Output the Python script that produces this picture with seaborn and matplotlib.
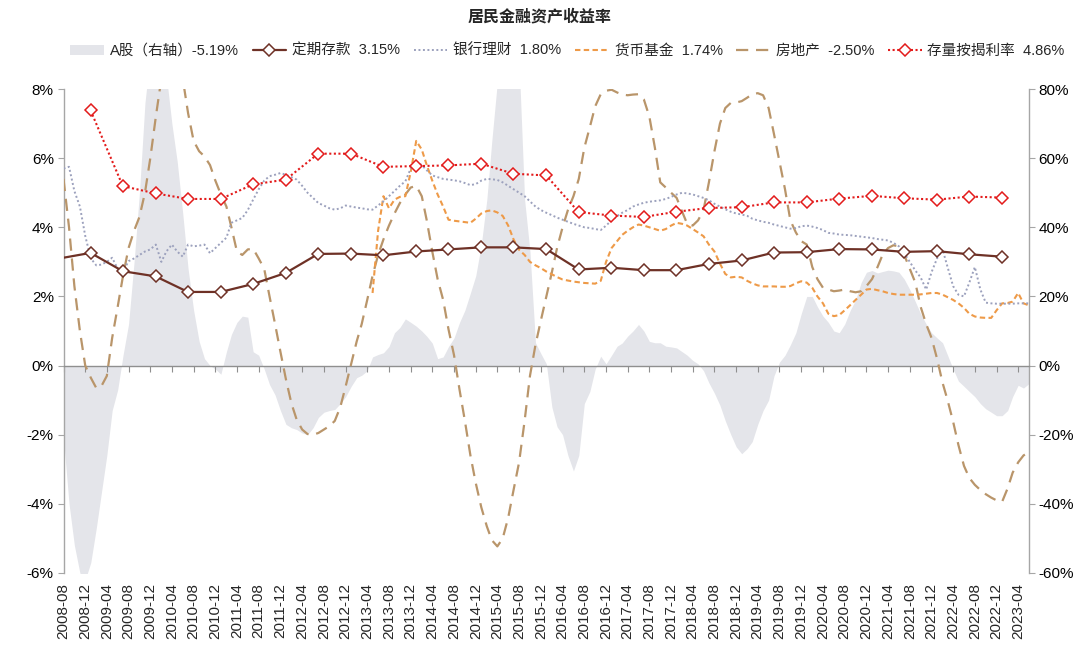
import numpy as np
import pandas as pd
import matplotlib
matplotlib.use("Agg")
import matplotlib.pyplot as plt
import matplotlib.dates as mdates
from matplotlib.lines import Line2D
from matplotlib.patches import Patch
from matplotlib.ticker import FuncFormatter, MultipleLocator
import seaborn as sns

# ---------------- data ----------------
month_start = "2008-08-01"
n_months = 179  # 2008-08 .. 2023-06

# A-share yoy return (%), right axis, monthly
astock = [
    -21, -40, -52, -60, -62, -57, -47, -37, -26, -13, -7, 3,
    12, 30, 50, 76, 90, 95, 92, 84, 70, 59, 44, 28,
    16, 7, 2, 0, -1, -2.5, 4, 9, 12.5, 14.3, 14, 4,
    3, -1, -5.5, -8.5, -13, -17, -18, -18.5, -19.5, -20, -18, -15,
    -13.5, -13, -12.7, -11, -9, -6, -3.5, -2.8, -1.5, 2.5, 3.2, 3.7,
    5.5, 9.5, 11, 13.5, 12.5, 11.4, 10, 8.5, 6.5, 2, 2.5, 5.5,
    8, 12.5, 16, 21, 26, 35, 48, 65, 82, 95, 110, 100,
    88, 48, 33, 6.6, 3.5, 0.5, -12, -17.7, -20, -26, -30.5, -26,
    -11, -7.5, -1, 2.7, 0.5, 3, 5.6, 6.5, 8.5, 10, 11.9, 10,
    7, 6.6, 6.6, 5.6, 5.4, 5.1, 4, 3, 1.5, 0.5, -1.5, -5,
    -8, -11.5, -16, -20, -23.5, -25.5, -24, -22, -17, -13, -10, -3,
    1, 3, 6, 9.5, 15, 20, 20, 17, 14.3, 12.5, 10, 9.5,
    12, 16, 19, 24, 27, 27.5, 26.8, 27.2, 27.6, 27.4, 27, 25,
    22, 18.5, 15, 12, 9.5, 8, 6.6, 3, -1, -4.5, -6, -7.5,
    -9, -11, -12.5, -13.5, -14.5, -14.5, -13, -9, -5.7, -6.5, -5.19,
]

# bank wealth-management yield (%), monthly
wmp = [
    5.7, 5.75, 5.05, 4.6, 3.75, 3.1, 2.9, 2.92, 3.0, 3.12, 2.8, 2.73,
    3.02, 3.1, 3.2, 3.3, 3.36, 3.5, 3.0, 3.3, 3.5, 3.3, 3.15, 3.5,
    3.45, 3.47, 3.5, 3.25, 3.4, 3.55, 3.7, 4.13, 4.2, 4.27, 4.5, 4.8,
    5.1, 5.35, 5.48, 5.52, 5.57, 5.52, 5.45, 5.38, 5.2, 5.0, 4.85, 4.7,
    4.63, 4.55, 4.51, 4.55, 4.63, 4.6, 4.57, 4.55, 4.52, 4.51, 4.63, 4.75,
    4.9, 5.05, 5.2, 5.33, 5.7, 5.9, 5.8, 5.65, 5.5, 5.45, 5.4, 5.38,
    5.36, 5.33, 5.28, 5.22, 5.25, 5.35, 5.4, 5.39, 5.37, 5.3, 5.2, 5.1,
    5.0, 4.9, 4.75, 4.6, 4.5, 4.42, 4.35, 4.28, 4.22, 4.16, 4.1, 4.05,
    4.0, 3.98, 3.95, 3.92, 4.05, 4.2, 4.32, 4.42, 4.5, 4.6, 4.66, 4.71,
    4.74, 4.76, 4.78, 4.82, 4.88, 4.95, 5.0, 4.98, 4.95, 4.9, 4.85, 4.78,
    4.68, 4.6, 4.52, 4.45, 4.4, 4.37, 4.33, 4.25, 4.2, 4.16, 4.13, 4.08,
    4.04, 4.0, 3.96, 3.98, 4.03, 4.05, 4.02, 3.98, 3.92, 3.84, 3.82, 3.79,
    3.78, 3.77, 3.75, 3.73, 3.71, 3.69, 3.66, 3.64, 3.62, 3.55, 3.45, 3.25,
    3.0, 2.75, 2.55, 2.2, 2.7, 3.1, 3.36, 2.85, 2.3, 2.05, 2.0, 2.4,
    2.85, 2.2, 1.82, 1.8, 1.79, 1.79, 1.79, 1.79, 1.8, 1.8, 1.8,
]

# money market fund yield (%), monthly from 2013-05
mmf_start = "2013-05-01"
mmf = [
    2.1, 3.9, 4.9,
    4.55, 4.8, 4.88, 4.9, 5.6, 6.5, 6.25, 5.8, 5.35, 4.95, 4.6, 4.22,
    4.19, 4.17, 4.15, 4.13, 4.25, 4.4, 4.47, 4.49, 4.43, 4.33, 4.05, 3.65,
    3.35, 3.2, 3.0, 2.9, 2.82, 2.72, 2.64, 2.56, 2.49, 2.46, 2.43, 2.41,
    2.39, 2.38, 2.37, 2.45, 3.0, 3.4, 3.6, 3.78, 3.9, 4.0, 4.08, 4.05,
    4.0, 3.95, 3.9, 3.95, 4.05, 4.13, 4.1, 4.05, 3.95, 3.85, 3.74, 3.5,
    3.3, 2.95, 2.65, 2.55, 2.57, 2.55, 2.45, 2.38, 2.32, 2.29, 2.29, 2.29,
    2.28, 2.28, 2.3, 2.38, 2.44, 2.4, 2.25, 2.0, 1.8, 1.5, 1.43, 1.46,
    1.6, 1.75, 1.9, 2.05, 2.2, 2.22, 2.18, 2.15, 2.1, 2.07, 2.05, 2.05,
    2.05, 2.05, 2.06, 2.08, 2.1, 2.1, 2.05, 1.98, 1.9, 1.8, 1.67, 1.5,
    1.42, 1.39, 1.38, 1.38, 1.6, 1.8, 1.81, 1.85, 2.1, 1.8, 1.74,
]

# real-estate return (%), monthly
realestate = [
    5.4, 4.0, 2.3, 1.0, 0.0, -0.35, -0.65, -0.6, -0.3, 0.8, 1.7, 2.6,
    3.4, 3.9, 4.3, 5.0, 6.0, 7.2, 8.3, 9.5, 10.0, 9.2, 8.3, 7.3,
    6.5, 6.2, 6.05, 5.8, 5.35, 4.95, 4.6, 4.0, 3.3, 3.2, 3.36, 3.38,
    3.1, 2.8, 2.0, 1.2, 0.4, -0.4, -1.1, -1.56, -1.85, -1.98, -2.0, -1.95,
    -1.85, -1.75, -1.6, -1.2, -0.6, 0.05, 0.7, 1.2, 1.9, 2.6, 3.2, 3.65,
    4.05, 4.4, 4.7, 4.95, 5.15, 5.2, 4.9, 4.2, 3.3, 2.5, 1.9, 1.05,
    0.3, -0.7, -1.6, -2.6, -3.4, -4.1, -4.65, -5.05, -5.23, -5.0, -4.4, -3.6,
    -2.8, -1.6, -0.3, 0.6, 1.3, 2.0, 2.7, 3.4, 4.0, 4.5, 4.9, 5.4,
    6.3, 6.9, 7.5, 7.85, 7.95, 7.98, 7.9, 7.84, 7.82, 7.84, 7.85, 7.7,
    7.2, 6.3, 5.3, 5.15, 5.0, 4.85, 4.45, 4.1, 4.05, 4.2, 4.5, 5.3,
    6.2, 7.0, 7.45, 7.6, 7.61, 7.65, 7.75, 7.85, 7.88, 7.82, 7.45, 6.7,
    5.9, 5.1, 4.2, 3.85, 3.6, 3.5, 2.85, 2.5, 2.25, 2.2, 2.15, 2.17,
    2.2, 2.15, 2.12, 2.15, 2.3, 2.5, 2.85, 3.2, 3.4, 3.48, 3.45, 3.2,
    2.8, 2.4, 1.7, 1.2, 0.8, 0.2, -0.5, -1.0, -1.62, -2.3, -2.9, -3.25,
    -3.45, -3.6, -3.72, -3.82, -3.9, -3.94, -3.55, -3.1, -2.8, -2.6, -2.5,
]

# semi-annual series (2008-12 .. 2022-12)
semi_start = "2008-12-31"
deposit_first_date = "2008-08-01"
deposit_first = 3.12
deposit = [3.26, 2.73, 2.58, 2.13, 2.13, 2.36, 2.68, 3.23, 3.24, 3.19, 3.30, 3.36,
           3.42, 3.42, 3.37, 2.78, 2.83, 2.76, 2.76, 2.94, 3.04, 3.27, 3.28, 3.37,
           3.36, 3.29, 3.31, 3.22, 3.15]
mortgage = [7.38, 5.19, 4.98, 4.82, 4.82, 5.24, 5.38, 6.13, 6.13, 5.75, 5.77, 5.79,
            5.84, 5.55, 5.50, 4.44, 4.34, 4.30, 4.45, 4.56, 4.58, 4.72, 4.72, 4.83,
            4.91, 4.84, 4.80, 4.89, 4.86]

names = ["A股（右轴）", "定期存款", "银行理财", "货币基金", "房地产", "存量按揭利率"]
title = "居民金融资产收益率"

# ---------------- build frames ----------------
months = pd.date_range(month_start, periods=n_months, freq="MS")
semi_dates = pd.date_range(semi_start, periods=len(mortgage), freq="6ME")
mmf_dates = pd.date_range(mmf_start, periods=len(mmf), freq="MS")
dep_dates = pd.DatetimeIndex([pd.Timestamp(deposit_first_date)]).append(semi_dates)
dep_vals = [deposit_first] + deposit

# ---------------- style ----------------
sns.set_theme(style="white")
plt.rcParams["font.family"] = ["Liberation Sans", "Noto Sans CJK SC", "DejaVu Sans"]
plt.rcParams["axes.unicode_minus"] = False

c_area = "#e4e5ea"
c_dep = "#6e3126"
c_wmp = "#9ca1bd"
c_mmf = "#ee9a48"
c_re = "#b9956a"
c_mort = "#e31b1b"
c_axis = "#a6a6a6"

fig = plt.figure(figsize=(10.8, 6.58), dpi=100)
ax = fig.add_axes([0.0588, 0.1292, 0.9528 - 0.0588, 0.8647 - 0.1292])
ax2 = ax.twinx()

# area (right axis)
ax2.fill_between(months, astock, 0, color=c_area, lw=0, zorder=1)
ax2.set_ylim(-60, 80)

ax.set_zorder(ax2.get_zorder() + 1)
ax.patch.set_visible(False)

# lines (left axis)
sns.lineplot(x=months, y=realestate, ax=ax, color=c_re, lw=1.6,
             linestyle=(0, (5.5, 3.5)), zorder=3)
sns.lineplot(x=mmf_dates, y=mmf, ax=ax, color=c_mmf, lw=1.5,
             linestyle=(0, (2.6, 1.6)), zorder=3)
sns.lineplot(x=months, y=wmp, ax=ax, color=c_wmp, lw=1.4,
             linestyle=(0, (1, 1.3)), zorder=3)
sns.lineplot(x=dep_dates, y=dep_vals, ax=ax, color=c_dep, lw=1.6,
             marker="D", markersize=6.5, markerfacecolor="white",
             markeredgecolor=c_dep, markeredgewidth=1.1,
             markevery=list(range(1, len(dep_vals))), zorder=4)
sns.lineplot(x=semi_dates, y=mortgage, ax=ax, color=c_mort, lw=1.5,
             linestyle=(0, (1, 1.2)), marker="D", markersize=6.5,
             markerfacecolor="white", markeredgecolor=c_mort,
             markeredgewidth=1.1, zorder=5)

ax.set_ylim(-6, 8)
ax.set_xlim(months[0], months[-1])
ax.yaxis.set_major_locator(MultipleLocator(2))
ax.yaxis.set_major_formatter(FuncFormatter(lambda v, p: f"{v:.0f}%"))
ax2.yaxis.set_major_locator(MultipleLocator(20))
ax2.yaxis.set_major_formatter(FuncFormatter(lambda v, p: f"{v:.0f}%"))
ax.set_xlabel("")
ax.set_ylabel("")

tick_dates = months[::4]
ax.set_xticks(tick_dates)
ax.xaxis.set_major_formatter(mdates.DateFormatter("%Y-%m"))

# spines
for s in ["top", "right"]:
    ax.spines[s].set_visible(False)
ax.spines["left"].set_color(c_axis)
ax.spines["left"].set_linewidth(1.0)
ax.spines["bottom"].set_position(("data", 0))
ax.spines["bottom"].set_color("#8f8f8f")
ax.spines["bottom"].set_linewidth(1.0)
for s in ["top", "left", "bottom"]:
    ax2.spines[s].set_visible(False)
ax2.spines["right"].set_color(c_axis)
ax2.spines["right"].set_linewidth(1.0)

ax.tick_params(axis="x", direction="out", length=4, width=0.8, color="#8f8f8f",
               labelbottom=False, bottom=True)
ax.tick_params(axis="y", direction="out", length=4, width=0.8, color=c_axis,
               labelsize=11, labelcolor="black", pad=3, left=True)
ax2.tick_params(axis="y", direction="out", length=4, width=0.8, color=c_axis,
                labelsize=11, labelcolor="black", pad=3, right=True)

# x labels at the bottom, via the twin axis (shares x)
ax2.xaxis.set_visible(True)
ax2.tick_params(axis="x", length=0, labelbottom=True, bottom=False,
                labelsize=11, labelrotation=90, pad=7)
for lab in ax2.get_xticklabels():
    lab.set_rotation(90)

# title
fig.text(0.5, 1 - 17 / 658, title, ha="center", va="center",
         fontsize=11.5, fontweight="bold")

# legend
handles = [
    Patch(facecolor=c_area, edgecolor="none"),
    Line2D([], [], color=c_dep, lw=1.6, marker="D", markersize=6.5,
           markerfacecolor="white", markeredgecolor=c_dep, markeredgewidth=1.1),
    Line2D([], [], color=c_wmp, lw=1.4, linestyle=(0, (1, 1.3))),
    Line2D([], [], color=c_mmf, lw=1.5, linestyle=(0, (2.6, 1.6))),
    Line2D([], [], color=c_re, lw=1.6, linestyle=(0, (5.5, 3.5))),
    Line2D([], [], color=c_mort, lw=1.5, linestyle=(0, (1, 1.2)), marker="D",
           markersize=6.5, markerfacecolor="white", markeredgecolor=c_mort,
           markeredgewidth=1.1),
]
last_vals = [astock[-1], deposit[-1], wmp[-1], mmf[-1], realestate[-1], mortgage[-1]]
labels = [names[0] + f"{last_vals[0]:.2f}%"] + \
         [f"{n}  {v:.2f}%" for n, v in zip(names[1:], last_vals[1:])]
fig.legend(handles, labels, loc="center", bbox_to_anchor=(0.5255, 1 - 51 / 658),
           ncol=6, frameon=False, fontsize=10.5, handlelength=2.3,
           handletextpad=0.4, columnspacing=0.95)

fig.savefig("out.png", dpi=100)
